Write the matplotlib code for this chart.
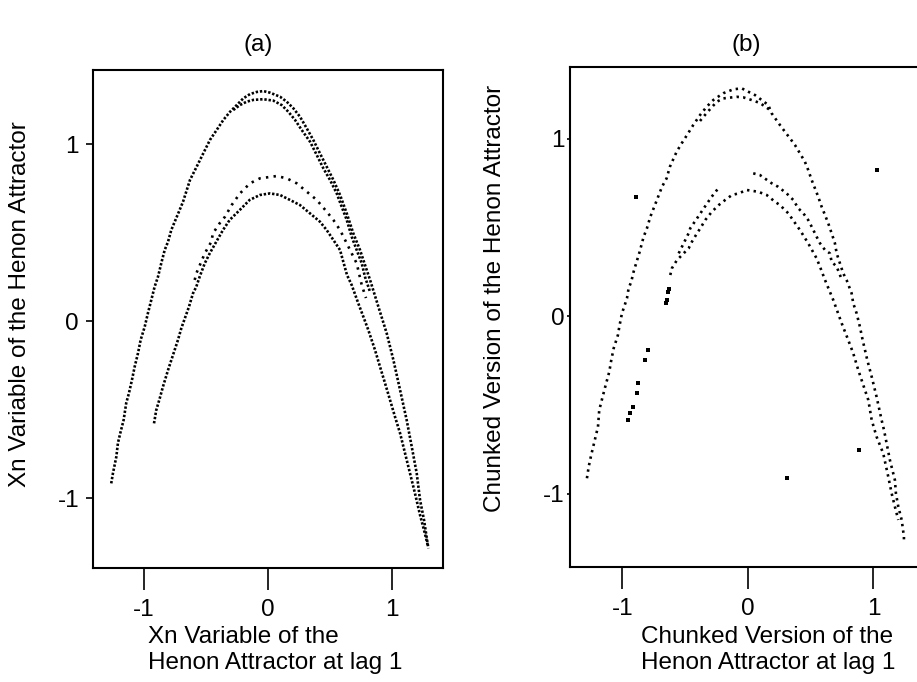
import matplotlib
matplotlib.use('Agg')
import matplotlib.pyplot as plt
from matplotlib import font_manager

# ---- data (data units) ----
# panel (a): Xn vs Xn at lag 1
a_outer_x = [-1.264, -1.250, -1.223, -1.210, -1.191, -1.164, -1.143, -1.121, -1.097, -1.075,
             -1.048, -1.027, -0.994, -0.968, -0.941, -0.914, -0.887, -0.860, -0.833, -0.806,
             -0.780, -0.752, -0.718, -0.685, -0.629, -0.575, -0.522, -0.468, -0.414, -0.360,
             -0.306, -0.252, -0.199, -0.145, -0.091, -0.038, 0.016, 0.097, 0.151, 0.204,
             0.258, 0.312, 0.365, 0.419, 0.473, 0.527, 0.581, 0.635, 0.688, 0.742,
             0.796, 0.823, 0.890, 0.957, 1.011, 1.065, 1.118, 1.159, 1.199, 1.226,
             1.258, 1.293]
a_outer_y = [-0.917, -0.859, -0.767, -0.689, -0.633, -0.559, -0.463, -0.407, -0.333, -0.258,
             -0.181, -0.107, -0.032, 0.045, 0.119, 0.194, 0.250, 0.328, 0.401, 0.448,
             0.514, 0.561, 0.618, 0.674, 0.797, 0.872, 0.947, 1.023, 1.079, 1.136,
             1.182, 1.220, 1.258, 1.282, 1.294, 1.299, 1.290, 1.267, 1.239, 1.202,
             1.154, 1.089, 1.023, 0.947, 0.872, 0.797, 0.712, 0.608, 0.495, 0.401,
             0.288, 0.232, 0.081, -0.069, -0.220, -0.390, -0.559, -0.710, -0.860, -1.011,
             -1.124, -1.284]

a_inner_x = [-0.280, -0.226, -0.172, -0.119, -0.038, 0.043, 0.110, 0.164, 0.218, 0.272,
             0.339, 0.393, 0.446, 0.500, 0.554, 0.594, 0.635, 0.675, 0.715, 0.756,
             0.782, 0.823]
a_inner_y = [1.192, 1.220, 1.239, 1.249, 1.253, 1.245, 1.220, 1.182, 1.136, 1.079,
             1.013, 0.938, 0.863, 0.797, 0.721, 0.646, 0.571, 0.476, 0.401, 0.326,
             0.250, 0.164]

a_mid_x = [-0.591, -0.578, -0.538, -0.510, -0.457, -0.444, -0.390, -0.347, -0.293, -0.226,
           -0.145, -0.065, 0.070, 0.151, 0.231, 0.312, 0.393, 0.473, 0.527, 0.581,
           0.635, 0.675, 0.715, 0.756, 0.790]
a_mid_y = [0.232, 0.269, 0.335, 0.382, 0.448, 0.495, 0.552, 0.589, 0.655, 0.721,
           0.778, 0.806, 0.819, 0.806, 0.778, 0.731, 0.684, 0.618, 0.571, 0.514,
           0.439, 0.382, 0.326, 0.203, 0.130]

a_low_x = [-0.919, -0.901, -0.873, -0.847, -0.806, -0.766, -0.726, -0.699, -0.637, -0.605,
           -0.578, -0.551, -0.510, -0.470, -0.417, -0.363, -0.309, -0.228, -0.148, -0.065,
           0.016, 0.097, 0.177, 0.258, 0.339, 0.419, 0.473, 0.527, 0.581, 0.607,
           0.637, 0.675, 0.728, 0.769, 0.809, 0.863, 0.903, 0.944, 0.984, 1.024,
           1.065, 1.105, 1.145, 1.185, 1.226, 1.258, 1.290]
a_low_y = [-0.578, -0.503, -0.437, -0.371, -0.277, -0.192, -0.107, -0.041, 0.081, 0.156,
           0.194, 0.250, 0.326, 0.382, 0.448, 0.514, 0.571, 0.627, 0.684, 0.712,
           0.721, 0.712, 0.684, 0.655, 0.608, 0.561, 0.514, 0.458, 0.401, 0.335,
           0.260, 0.203, 0.100, 0.024, -0.051, -0.164, -0.258, -0.352, -0.446, -0.541,
           -0.634, -0.747, -0.860, -0.973, -1.096, -1.181, -1.271]

# panel (b): chunked version
b_outer_x = [-1.283, -1.269, -1.249, -1.195, -1.185, -1.158, -1.137, -1.105, -1.089, -1.070,
             -1.036, -1.025, -1.004, -0.964, -0.951, -0.930, -0.911, -0.863, -0.831, -0.805,
             -0.778, -0.731, -0.685, -0.648, -0.622, -0.568, -0.528, -0.488, -0.436, -0.382,
             -0.329, -0.276, -0.197, -0.117, -0.050, 0.002, 0.056, 0.109, 0.162, 0.189,
             0.255, 0.295, 0.335, 0.375, 0.414, 0.454, 0.480, 0.508, 0.534, 0.560,
             0.587, 0.614, 0.640, 0.667, 0.693, 0.707, 0.733, 0.759, 0.786, 0.826,
             0.839, 0.866, 0.892, 0.914, 0.951, 0.986, 1.025, 1.065, 1.084, 1.105,
             1.131, 1.171, 1.179, 1.198, 1.225, 1.243, 1.243]
b_outer_y = [-0.914, -0.849, -0.783, -0.624, -0.530, -0.455, -0.398, -0.314, -0.248, -0.182,
             -0.107, -0.060, 0.015, 0.100, 0.156, 0.193, 0.250, 0.362, 0.447, 0.494,
             0.559, 0.644, 0.728, 0.776, 0.841, 0.926, 0.973, 1.017, 1.076, 1.132,
             1.179, 1.217, 1.255, 1.277, 1.283, 1.264, 1.245, 1.217, 1.189, 1.142,
             1.076, 1.038, 1.001, 0.963, 0.917, 0.869, 0.823, 0.766, 0.719, 0.672,
             0.616, 0.569, 0.522, 0.466, 0.410, 0.353, 0.297, 0.241, 0.203, 0.128,
             0.072, 0.015, -0.060, -0.135, -0.248, -0.342, -0.455, -0.586, -0.642, -0.717,
             -0.811, -0.924, -0.999, -1.074, -1.149, -1.243, -1.281]

b_inner_x = [-0.382, -0.329, -0.249, -0.197, -0.090, -0.037, 0.029, 0.096, 0.175]
b_inner_y = [1.099, 1.144, 1.207, 1.226, 1.235, 1.232, 1.217, 1.200, 1.161]

b_low_x = [-0.619, -0.606, -0.566, -0.539, -0.500, -0.473, -0.446, -0.406, -0.380, -0.340,
           -0.287, -0.233, -0.181, -0.127, -0.074, -0.010, 0.082, 0.149, 0.215, 0.255,
           0.321, 0.414, 0.480, 0.547, 0.574, 0.614, 0.680, 0.747, 0.799, 0.839,
           0.879, 0.919, 0.959, 0.986, 1.025, 1.078, 1.118, 1.145, 1.171, 1.198]
b_low_y = [0.231, 0.269, 0.315, 0.334, 0.362, 0.381, 0.419, 0.466, 0.494, 0.541,
           0.588, 0.625, 0.654, 0.682, 0.691, 0.710, 0.700, 0.682, 0.644, 0.625,
           0.579, 0.485, 0.410, 0.325, 0.278, 0.203, 0.090, -0.041, -0.135, -0.210,
           -0.304, -0.389, -0.473, -0.586, -0.680, -0.774, -0.905, -0.999, -1.074, -1.149]

b_mid1_x = [-0.552, -0.473, -0.460, -0.406, -0.351, -0.289, -0.237]
b_mid1_y = [0.353, 0.466, 0.494, 0.550, 0.608, 0.672, 0.719]
b_mid2_x = [0.042, 0.096, 0.189, 0.241, 0.308, 0.361, 0.401, 0.441, 0.480, 0.508,
            0.547, 0.574, 0.614, 0.653, 0.667, 0.707, 0.749]
b_mid2_y = [0.804, 0.794, 0.748, 0.728, 0.691, 0.654, 0.607, 0.579, 0.541, 0.503,
            0.447, 0.410, 0.372, 0.353, 0.306, 0.278, 0.203]

b_frag_x = [-0.954, -0.940, -0.919, -0.887, -0.874, -0.821, -0.794, -0.653, -0.648, -0.635, -0.629]
b_frag_y = [-0.586, -0.548, -0.511, -0.435, -0.379, -0.248, -0.192, 0.073, 0.090, 0.137, 0.152]
b_out_x = [-0.895, 1.030, 0.308, 0.882]
b_out_y = [0.672, 0.823, -0.914, -0.755]

ticks = [-1, 0, 1]
tick_labels = ['-1', '0', '1']

# ---- font ----
names = {f.name for f in font_manager.fontManager.ttflist}
if 'Liberation Sans Narrow' in names:
    fam, fs = 'Liberation Sans Narrow', 20.5
else:
    fam, fs = 'Liberation Sans', 17.5
plt.rcParams['font.family'] = fam
plt.rcParams['font.size'] = fs
plt.rcParams['axes.unicode_minus'] = False

fig = plt.figure(figsize=(9.17, 6.82), dpi=100)
ax_a = fig.add_axes([93/917, 1-568/682, 350/917, 498/682])
ax_b = fig.add_axes([570/917, 1-567/682, 350/917, 500/682])

dense = dict(color='black', lw=1.9, linestyle=(0, (0.9, 0.7)))
sparse = dict(color='black', lw=1.9, linestyle=(0, (0.9, 1.6)))

ax_a.plot(a_outer_x, a_outer_y, **dense)
ax_a.plot(a_inner_x, a_inner_y, **dense)
ax_a.plot(a_mid_x, a_mid_y, color='black', lw=1.9, linestyle=(0, (0.9, 2.0)))
ax_a.plot(a_low_x, a_low_y, **dense)

ax_b.plot(b_outer_x, b_outer_y, **sparse)
ax_b.plot(b_inner_x, b_inner_y, **sparse)
ax_b.plot(b_low_x, b_low_y, **sparse)
ax_b.plot(b_mid1_x, b_mid1_y, **sparse)
ax_b.plot(b_mid2_x, b_mid2_y, **sparse)
ax_b.scatter(b_frag_x, b_frag_y, s=6, marker='s', color='black', linewidths=0)
ax_b.scatter(b_out_x, b_out_y, s=6, marker='s', color='black', linewidths=0)

ax_a.set_xlim(-1.411, 1.411)
ax_a.set_ylim(-1.395, 1.418)
ax_b.set_xlim(-1.418, 1.371)
ax_b.set_ylim(-1.414, 1.403)

for ax in (ax_a, ax_b):
    ax.set_xticks(ticks)
    ax.set_xticklabels(tick_labels)
    ax.set_yticks(ticks)
    ax.set_yticklabels(tick_labels)
    ax.tick_params(axis='x', direction='out', length=16, width=1.2, pad=6)
    for s in ax.spines.values():
        s.set_linewidth(1.5)
ax_a.tick_params(axis='y', direction='out', length=5, width=1.2, pad=5)
ax_b.tick_params(axis='y', direction='out', length=2, width=1.2, pad=2)

fig.text(258/917, 1-45/682, '(a)', ha='center', va='center')
fig.text(746/917, 1-45/682, '(b)', ha='center', va='center')

fig.text(20/917, 1-304/682, 'Xn Variable of the Henon Attractor',
         rotation=90, ha='center', va='center')
fig.text(495/917, 1-298/682, 'Chunked Version of the Henon Attractor',
         rotation=90, ha='center', va='center')

fig.text(148/917, 1-650/682, 'Xn Variable of the\nHenon Attractor at lag 1',
         ha='left', va='center', linespacing=1.25)
fig.text(641/917, 1-650/682, 'Chunked Version of the\nHenon Attractor at lag 1',
         ha='left', va='center', linespacing=1.25)

fig.savefig('out.png', dpi=100)
